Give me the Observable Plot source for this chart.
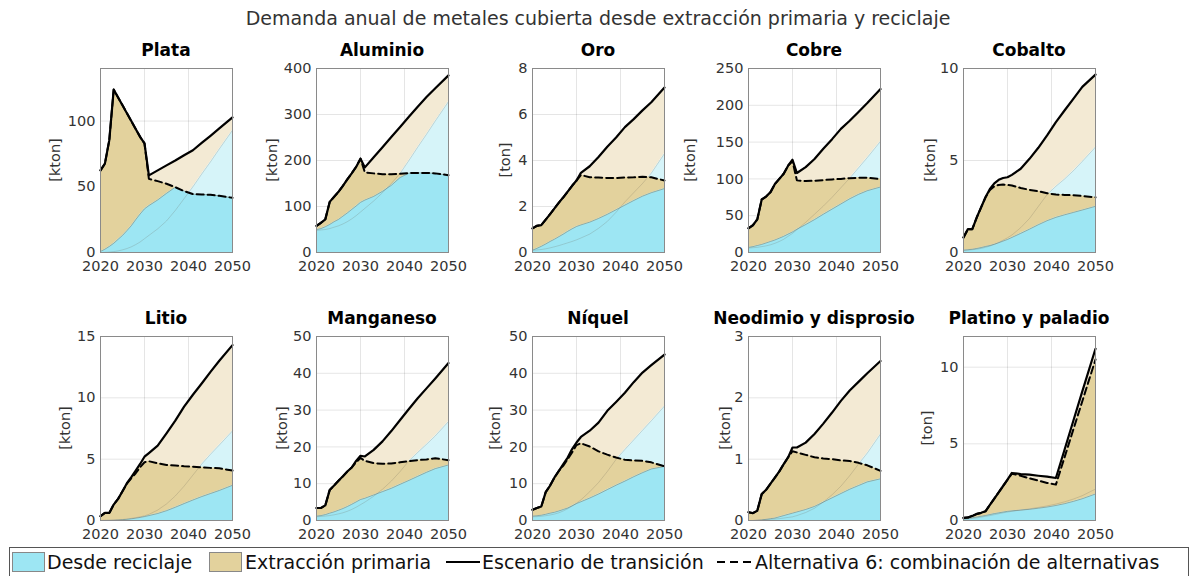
<!DOCTYPE html>
<html><head><meta charset="utf-8">
<script src="https://cdn.jsdelivr.net/npm/d3@7"></script>
<script src="https://cdn.jsdelivr.net/npm/@observablehq/plot@0.6"></script>
<style>
body{margin:0;background:#fff;}
#root{position:relative;width:1196px;height:576px;font-family:"DejaVu Sans",sans-serif;overflow:hidden;background:#fff;}
.title{position:absolute;left:0;width:1196px;top:7px;text-align:center;font-size:19px;color:#333;}
.ptitle{position:absolute;font-weight:bold;font-size:17px;line-height:1;color:#000;transform:translate(-50%,-50%);white-space:nowrap;}
.ylab{position:absolute;font-size:14.5px;color:#333;transform:translate(-50%,-50%) rotate(-90deg);white-space:nowrap;}
.panel{position:absolute;}
.lg{position:absolute;font-size:19px;color:#111;white-space:nowrap;transform:translateY(-50%);}
.sw{position:absolute;width:31px;height:18px;border:1px solid #888;transform:translateY(-50%);}
</style></head>
<body><div id="root"></div>
<script>
// ---- data ----
const metals = ["Plata","Aluminio","Oro","Cobre","Cobalto","Litio","Manganeso","Níquel","Neodimio y disprosio","Platino y paladio"];
const units = ["[kton]","[kton]","[ton]","[kton]","[kton]","[kton]","[kton]","[kton]","[kton]","[ton]"];
const yMax = [140,400,8,250,10,15,50,50,3,12];
const yTicks = [[0,50,100],[0,100,200,300,400],[0,2,4,6,8],[0,50,100,150,200,250],[0,5,10],[0,5,10,15],[0,10,20,30,40,50],[0,10,20,30,40,50],[0,1,2,3],[0,5,10]];
const xTicks = [2020,2030,2040,2050];
const years = [2020,2021,2022,2023,2024,2025,2026,2027,2028,2029,2030,2031,2033,2035,2037,2039,2041,2043,2045,2047,2050];

// Escenario de transición: demanda total
const totT = [
 [62.5,67.6,85.5,124,118,112,106,100,94,88,83,58.7,62.5,66.3,70,74,77.8,83.4,88.8,94.4,102.8],
 [58,64.5,72,110,121,132,145,159,172,186,204,185,207,229,251,273,295,317,338,357,385],
 [1.05,1.16,1.19,1.43,1.67,1.92,2.17,2.4,2.65,2.9,3.13,3.46,3.75,4.15,4.6,5.0,5.45,5.8,6.18,6.53,7.17],
 [33,37,45,72,76,82,93,100,107,118,126,108,116,127,141,154,168,179,191,203,222],
 [0.82,1.27,1.27,1.9,2.45,3.0,3.45,3.76,3.95,4.05,4.09,4.22,4.55,5.09,5.69,6.36,7.09,7.73,8.36,9.0,9.67],
 [0.35,0.62,0.62,1.3,1.76,2.39,3.04,3.53,4.07,4.61,5.2,5.5,6.1,7.1,8.14,9.28,10.25,11.17,12.12,13.02,14.3],
 [3.4,3.4,4.1,8.3,9.5,10.8,12,13.3,14.4,16.2,17.6,17.4,19.2,21.5,24.3,27.3,30.3,33.2,35.9,38.6,42.8],
 [2.9,3.4,3.8,7.7,9.5,11.7,13.5,15.3,17.1,19.4,21.2,22.7,24.4,26.6,29.8,32.2,34.7,37.6,40.2,42.2,45.1],
 [0.135,0.12,0.16,0.43,0.5,0.6,0.7,0.8,0.92,1.03,1.19,1.19,1.27,1.41,1.58,1.76,1.95,2.12,2.26,2.4,2.6],
 [0.17,0.2,0.3,0.43,0.5,0.6,1.02,1.43,1.84,2.25,2.66,3.1,3.03,2.99,2.92,2.86,2.77,4.65,6.54,8.42,11.2]
];
// Escenario de transición: desde reciclaje
const recT = [
 [0,0.1,0.3,0.7,1.2,2,3,4.3,6,8,10.5,13,18,24,32,41,50,59.7,69,78.8,93],
 [48,49,50,52,55,58,62,67,73,80,88,96,112,130,150,172,200,229,257,286,328],
 [0.1,0.11,0.13,0.16,0.2,0.25,0.3,0.36,0.42,0.48,0.55,0.63,0.8,1.05,1.35,1.75,2.2,2.6,3.0,3.45,4.3],
 [6,6.5,7,8,9,10.5,12.5,15,18,22,26,31,41,52,63,75,88,101,115,129,151],
 [0.12,0.13,0.15,0.18,0.22,0.28,0.35,0.44,0.55,0.67,0.8,0.95,1.35,1.85,2.5,3.15,3.6,4.0,4.45,4.95,5.73],
 [0,0.01,0.02,0.03,0.05,0.08,0.12,0.17,0.23,0.3,0.38,0.5,0.85,1.35,2.0,2.8,3.7,4.6,5.4,6.15,7.3],
 [1.0,1.1,1.2,1.35,1.55,1.8,2.1,2.5,3.0,3.6,4.3,5.0,6.6,8.5,10.7,13.3,16.2,18.5,20.7,23.0,26.9],
 [1.0,1.05,1.15,1.3,1.5,1.75,2.1,2.6,3.2,3.9,4.7,5.6,7.8,10.3,13.3,16.6,19.3,21.9,24.5,27.1,31.1],
 [0,0,0.005,0.01,0.015,0.02,0.025,0.03,0.04,0.05,0.06,0.08,0.13,0.2,0.3,0.42,0.56,0.73,0.92,1.1,1.41],
 [0.08,0.1,0.13,0.17,0.22,0.27,0.32,0.38,0.44,0.5,0.55,0.6,0.68,0.76,0.85,0.95,1.07,1.22,1.4,1.62,2.05]
];
// Alternativa 6: demanda total
const totA = [
 [62.5,67.6,85.5,124,118,112,106,100,94,88,83,56,54.3,52.3,49.7,46.7,44.4,44.1,43.9,43.1,41.6],
 [58,64.5,72,110,121,132,145,159,172,186,204,174,172,170,170,171,172.5,173,173,172,168],
 [1.05,1.16,1.19,1.43,1.67,1.92,2.17,2.4,2.65,2.9,3.13,3.37,3.27,3.26,3.24,3.24,3.26,3.27,3.29,3.27,3.13],
 [33,37,45,72,76,82,93,100,107,118,124,98,97,97.5,98.4,99.3,100,101,101.5,101.5,99.7],
 [0.82,1.27,1.27,1.9,2.45,3.0,3.4,3.6,3.67,3.69,3.67,3.64,3.51,3.4,3.33,3.22,3.15,3.13,3.11,3.07,3.0],
 [0.35,0.62,0.62,1.3,1.76,2.39,3.0,3.45,3.85,4.34,4.75,4.83,4.66,4.53,4.48,4.42,4.39,4.34,4.29,4.26,4.07],
 [3.4,3.4,4.1,8.3,9.5,10.8,12,13.3,14.4,15.8,17.0,16.2,15.6,15.4,15.5,15.8,16.1,16.4,16.6,16.9,16.4],
 [2.9,3.4,3.8,7.7,9.5,11.7,13.5,14.9,16.7,18.5,20.5,21,20.1,18.8,17.9,17.1,16.5,16.3,16.2,15.8,14.7],
 [0.135,0.12,0.16,0.43,0.5,0.6,0.7,0.8,0.92,1.03,1.13,1.11,1.07,1.03,1.01,1.0,0.98,0.97,0.94,0.9,0.81],
 [0.17,0.2,0.3,0.43,0.5,0.6,1.02,1.43,1.84,2.25,2.66,3.05,2.92,2.75,2.6,2.45,2.34,4.15,5.97,7.78,10.5]
];
// Alternativa 6: desde reciclaje
const recA = [
 [0.8,2.5,4.6,7,10,13,16.6,20.4,25,29.3,33.2,35.7,40,45,49.7,46.7,44.4,44.1,43.9,43.1,41.6],
 [50,52,56,61,67,72,79,86,93.5,101,109,114,122,133,146,163,172.5,173,173,172,168],
 [0.1,0.18,0.27,0.37,0.48,0.58,0.69,0.8,0.92,1.03,1.13,1.2,1.32,1.48,1.66,1.86,2.06,2.26,2.45,2.6,2.78],
 [7,8,9.5,11,13,15,17,19.5,22,25,28,31.6,38,44.7,52,59,66,73,79,84,89],
 [0.13,0.15,0.18,0.22,0.27,0.33,0.38,0.45,0.53,0.62,0.71,0.82,1.04,1.27,1.51,1.73,1.91,2.05,2.18,2.31,2.51],
 [0,0.01,0.02,0.03,0.05,0.07,0.1,0.14,0.19,0.25,0.32,0.4,0.57,0.8,1.08,1.38,1.67,1.95,2.2,2.45,2.87],
 [1.2,1.35,1.6,2,2.35,2.8,3.25,3.8,4.4,5.05,5.7,6.05,6.95,7.85,8.75,9.84,10.9,12,13.1,14.1,15.1],
 [1.2,1.3,1.45,1.7,2.0,2.25,2.6,3.0,3.4,4.0,4.6,5.1,6.1,7.2,8.4,9.6,10.7,11.9,13,14,14.7],
 [0,0,0.005,0.01,0.02,0.03,0.04,0.06,0.08,0.1,0.12,0.14,0.18,0.23,0.3,0.37,0.44,0.51,0.57,0.63,0.68],
 [0.1,0.13,0.18,0.23,0.28,0.33,0.39,0.45,0.5,0.55,0.6,0.63,0.68,0.73,0.8,0.88,0.98,1.1,1.25,1.42,1.73]
];
const legendLabels = ["Desde reciclaje","Extracción primaria","Escenario de transición","Alternativa 6: combinación de alternativas"];
const colors = {cyan:"#9de6f3", tan:"#e3d29d", cyanLight:"#d6f4f9", tanLight:"#f3ead4"};

// ---- layout ----
const root = document.getElementById("root");
const frameLefts = [100,316,532,748,963];
const frameTops = [68,336];
const FW = 132, FH = 184, ML = 60, MR = 28, MT = 10, MB = 32;
const ylabOffset = [45,44,27,58,33,35,34,37,23,36];

const t = document.createElement("div");
t.className = "title";
t.textContent = "Demanda anual de metales cubierta desde extracción primaria y reciclaje";
root.appendChild(t);

metals.forEach((name, i) => {
  const col = i % 5, row = Math.floor(i / 5);
  const fl = frameLefts[col], ft = frameTops[row];
  const data = years.map((yr, j) => ({year: yr, tT: totT[i][j], rT: recT[i][j], tA: totA[i][j], rA: recA[i][j]}));
  const chart = Plot.plot({
    width: ML + FW + MR, height: MT + FH + MB,
    marginLeft: ML, marginRight: MR, marginTop: MT, marginBottom: MB,
    style: {background: "transparent", fontFamily: "DejaVu Sans", fontSize: "14.5px", color: "#333", overflow: "visible"},
    x: {domain: [2020, 2050]},
    y: {domain: [0, yMax[i]]},
    marks: [
      Plot.gridX(xTicks, {stroke: "#000", strokeOpacity: 0.1}),
      Plot.gridY(yTicks[i], {stroke: "#000", strokeOpacity: 0.1}),
      Plot.areaY(data, {x: "year", y1: 0, y2: "rT", fill: colors.cyanLight}),
      Plot.areaY(data, {x: "year", y1: "rT", y2: "tT", fill: colors.tanLight}),
      Plot.areaY(data, {x: "year", y1: 0, y2: "rA", fill: colors.cyan}),
      Plot.areaY(data, {x: "year", y1: "rA", y2: "tA", fill: colors.tan}),
      Plot.lineY(data, {x: "year", y: "rT", stroke: "#6b6558", strokeOpacity: 0.28, strokeWidth: 0.8}),
      Plot.lineY(data, {x: "year", y: "rA", stroke: "#7d6f55", strokeOpacity: 0.7, strokeWidth: 0.7}),
      Plot.lineY(data, {x: "year", y: "tT", stroke: "#000", strokeWidth: 2.2}),
      Plot.lineY(data, {x: "year", y: "tA", stroke: "#000", strokeWidth: 2, strokeDasharray: "7,4"}),
      Plot.frame({stroke: "#8a8a8a"}),
      Plot.axisX(xTicks, {tickSize: 0, tickPadding: 8, tickFormat: d => String(d), label: null}),
      Plot.axisY(yTicks[i], {tickSize: 0, tickPadding: 5, tickFormat: d => String(d), label: null})
    ]
  });
  const p = document.createElement("div");
  p.className = "panel";
  p.style.left = (fl - ML) + "px";
  p.style.top = (ft - MT) + "px";
  p.appendChild(chart);
  root.appendChild(p);

  const pt = document.createElement("div");
  pt.className = "ptitle";
  pt.textContent = name;
  pt.style.left = (fl + FW / 2) + "px";
  pt.style.top = (ft - 18) + "px";
  root.appendChild(pt);

  const yl = document.createElement("div");
  yl.className = "ylab";
  yl.textContent = units[i];
  yl.style.left = (fl - ylabOffset[i]) + "px";
  yl.style.top = (ft + FH / 2) + "px";
  root.appendChild(yl);
});

// ---- legend ----
const box = document.createElement("div");
box.style.cssText = "position:absolute;left:9px;top:547px;width:1180px;height:30px;border:1px solid #555;box-sizing:border-box;";
root.appendChild(box);
const LY = 562;
function sw(x, c) {
  const d = document.createElement("div");
  d.className = "sw"; d.style.left = x + "px"; d.style.top = LY + "px"; d.style.background = c;
  root.appendChild(d);
}
function txt(x, s) {
  const d = document.createElement("div");
  d.className = "lg"; d.style.left = x + "px"; d.style.top = LY + "px"; d.textContent = s;
  root.appendChild(d);
}
function ln(x, dash) {
  const ns = "http://www.w3.org/2000/svg";
  const s = document.createElementNS(ns, "svg");
  s.setAttribute("width", 34); s.setAttribute("height", 10);
  s.style.cssText = `position:absolute;left:${x}px;top:${LY - 5}px;`;
  const l = document.createElementNS(ns, "line");
  l.setAttribute("x1", 0); l.setAttribute("x2", 34); l.setAttribute("y1", 5); l.setAttribute("y2", 5);
  l.setAttribute("stroke", "#000"); l.setAttribute("stroke-width", 2.2);
  if (dash) l.setAttribute("stroke-dasharray", "8,5");
  s.appendChild(l); root.appendChild(s);
}
sw(12, colors.cyan); txt(47, legendLabels[0]);
sw(209, colors.tan); txt(245, legendLabels[1]);
ln(446, false); txt(482, legendLabels[2]);
ln(717, true); txt(755, legendLabels[3]);
</script>
</body></html>
